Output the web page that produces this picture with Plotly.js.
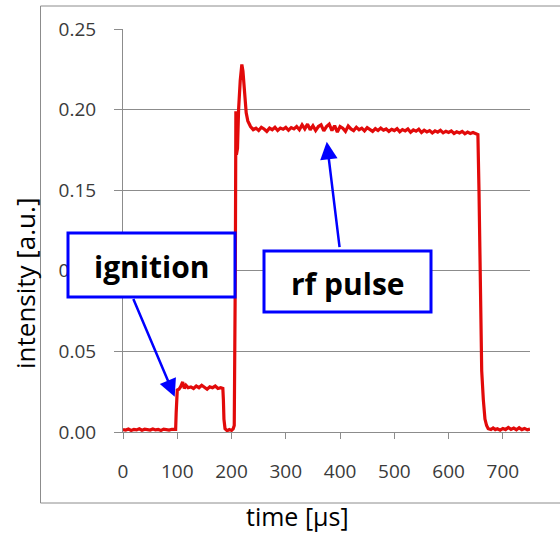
<!DOCTYPE html>
<html>
<head>
<meta charset="utf-8">
<script src="https://cdn.plot.ly/plotly-3.0.1.min.js"></script>
<style>html,body{margin:0;padding:0;background:#fff;}#chart{width:560px;height:535px;}</style>
</head>
<body>
<div id="chart"></div>
<script>
// time [µs]
const timeUs = [
  0,5,10,15,20,25,30,35,40,45,50,55,60,65,70,75,80,85,90,95,97,
  98,99,100,103,106,110,113,116,120,125,130,135,140,145,150,155,160,165,170,175,180,184,185,186,188,192,196,200,203,205,
  207,208,209,211,213,216,219,221,224,227,230,233,
  235,240,245,250,255,260,265,270,275,280,285,290,295,300,305,310,315,320,325,330,335,340,345,350,355,360,365,370,375,380,385,390,395,400,
  405,410,415,420,425,430,435,440,445,450,455,460,465,470,475,480,485,490,495,500,505,510,515,520,525,530,535,540,545,550,555,560,565,570,
  575,580,585,590,595,600,605,610,615,620,625,630,635,640,645,650,654,
  656,658,660,661,664,667,670,673,
  678,682,686,690,695,700,705,710,715,720,725,730,735,740,745,750
];
// intensity [a.u.]
const intensity = [
  0.0015,0.0012,0.0018,0.0010,0.0016,0.0013,0.0020,0.0011,0.0017,0.0014,0.0012,0.0019,0.0013,0.0016,0.0010,0.0018,0.0015,0.0012,0.0017,0.0014,0.0016,
  0.012,0.024,0.026,0.0265,0.028,0.031,0.027,0.029,0.0275,0.028,0.027,0.0285,0.0275,0.029,0.028,0.0265,0.028,0.0275,0.0285,0.027,0.0275,0.027,0.020,0.008,0.002,0.0008,0.0015,0.0010,0.0020,0.0040,
  0.100,0.199,0.172,0.176,0.200,0.218,0.228,0.224,0.210,0.198,0.193,0.190,
  0.1895,0.1875,0.1885,0.1870,0.1890,0.1880,0.1865,0.1885,0.1875,0.1890,0.1870,0.1885,0.1878,0.1890,0.1872,0.1888,0.1880,0.1895,0.1875,0.1905,0.1880,0.1910,0.1875,0.1900,0.1870,0.1895,0.1905,0.1868,0.1895,0.1910,0.1870,0.1900,0.1860,0.1895,
  0.1885,0.1865,0.1898,0.1880,0.1870,0.1890,0.1875,0.1885,0.1868,0.1888,0.1878,0.1865,0.1882,0.1870,0.1885,0.1872,0.1880,0.1865,0.1878,0.1870,0.1882,0.1862,0.1876,0.1868,0.1880,0.1860,0.1874,0.1866,0.1878,0.1858,0.1872,0.1862,0.1870,0.1855,
  0.1868,0.1860,0.1872,0.1856,0.1866,0.1858,0.1868,0.1852,0.1862,0.1855,0.1865,0.1850,0.1860,0.1852,0.1858,0.1850,0.1845,
  0.150,0.095,0.050,0.038,0.020,0.008,0.004,0.002,
  0.0015,0.0025,0.0015,0.0020,0.0012,0.0022,0.0015,0.0028,0.0016,0.0024,0.0014,0.0026,0.0015,0.0022,0.0013,0.0018
];
const xTicks = [0,100,200,300,400,500,600,700];
const yTicks = [0.00,0.05,0.10,0.15,0.20,0.25];
const labels = {x: 'time [µs]', y: 'intensity [a.u.]', ignition: 'ignition', rf: 'rf pulse'};

const gray = '#8c8c8c';
const font = 'Open Sans, Noto Sans, sans-serif';

const trace = {
  x: timeUs, y: intensity, type: 'scatter', mode: 'lines',
  line: {color: 'rgb(226,10,10)', width: 3.2}, hoverinfo: 'skip'
};

// plot area pixel geometry helpers (for placing overlay boxes)
const L = 123, T = 29, W = 407, H = 403;
const px = v => (v - L) / W;
const py = v => (T + H - v) / H;

const layout = {
  width: 560, height: 535,
  margin: {l: L, r: 560 - L - W, t: T, b: 535 - T - H},
  paper_bgcolor: '#fff', plot_bgcolor: '#fff',
  showlegend: false,
  font: {family: font, color: '#3a3a3a', size: 19},
  xaxis: {
    range: [0, 750], tickvals: xTicks, ticktext: xTicks.map(String),
    showgrid: false, zeroline: false, showline: true, linecolor: gray, linewidth: 1,
    ticks: 'outside', ticklen: 6, tickcolor: gray, tickwidth: 1,
    tickfont: {family: font, size: 19, color: '#3a3a3a'}, ticklabelstandoff: 16
  },
  yaxis: {
    range: [0, 0.25], tickvals: yTicks, ticktext: yTicks.map(v => v.toFixed(2)),
    showgrid: true, gridcolor: gray, gridwidth: 1, zeroline: false,
    showline: true, linecolor: gray, linewidth: 1,
    ticks: 'outside', ticklen: 8, tickcolor: gray, tickwidth: 1,
    tickfont: {family: font, size: 19, color: '#3a3a3a'}, ticklabelstandoff: 14
  },
  shapes: [
    {type: 'rect', xref: 'paper', yref: 'paper', x0: px(40.5), x1: px(562), y0: py(503), y1: py(6),
     line: {color: gray, width: 1}, fillcolor: 'rgba(0,0,0,0)', layer: 'below'},
    {type: 'rect', xref: 'paper', yref: 'paper', x0: px(68), x1: px(235), y0: py(297), y1: py(233),
     line: {color: '#0000ff', width: 3}, fillcolor: '#ffffff', layer: 'above'},
    {type: 'rect', xref: 'paper', yref: 'paper', x0: px(264), x1: px(431), y0: py(312), y1: py(251),
     line: {color: '#0000ff', width: 3}, fillcolor: '#ffffff', layer: 'above'}
  ],
  annotations: [
    {xref: 'x', yref: 'y', x: 95.3, y: 0.0219, axref: 'x', ayref: 'y', ax: 17.9, ay: 0.0834,
     text: '', showarrow: true, arrowhead: 2, arrowsize: 1.4, arrowwidth: 2.5, arrowcolor: '#0000ff'},
    {xref: 'x', yref: 'y', x: 375.5, y: 0.180, axref: 'x', ayref: 'y', ax: 399.4, ay: 0.1138,
     text: '', showarrow: true, arrowhead: 2, arrowsize: 1.4, arrowwidth: 2.5, arrowcolor: '#0000ff'},
    {xref: 'paper', yref: 'paper', x: px(151.5), y: py(266), xanchor: 'center', yanchor: 'middle',
     text: '<b>' + labels.ignition + '</b>', showarrow: false, font: {family: font, size: 30, color: '#000'}},
    {xref: 'paper', yref: 'paper', x: px(347.5), y: py(283), xanchor: 'center', yanchor: 'middle',
     text: '<b>' + labels.rf + '</b>', showarrow: false, font: {family: font, size: 30, color: '#000'}},
    {xref: 'paper', yref: 'paper', x: px(297.5), y: py(516), xanchor: 'center', yanchor: 'middle',
     text: labels.x, showarrow: false, borderpad: 0, font: {family: font, size: 25, color: '#000'}},
    {xref: 'paper', yref: 'paper', x: px(25), y: py(284), xanchor: 'center', yanchor: 'middle', textangle: -90,
     text: labels.y, showarrow: false, font: {family: font, size: 26, color: '#000'}}
  ]
};

Plotly.newPlot('chart', [trace], layout, {displayModeBar: false, staticPlot: true});
</script>
</body>
</html>
